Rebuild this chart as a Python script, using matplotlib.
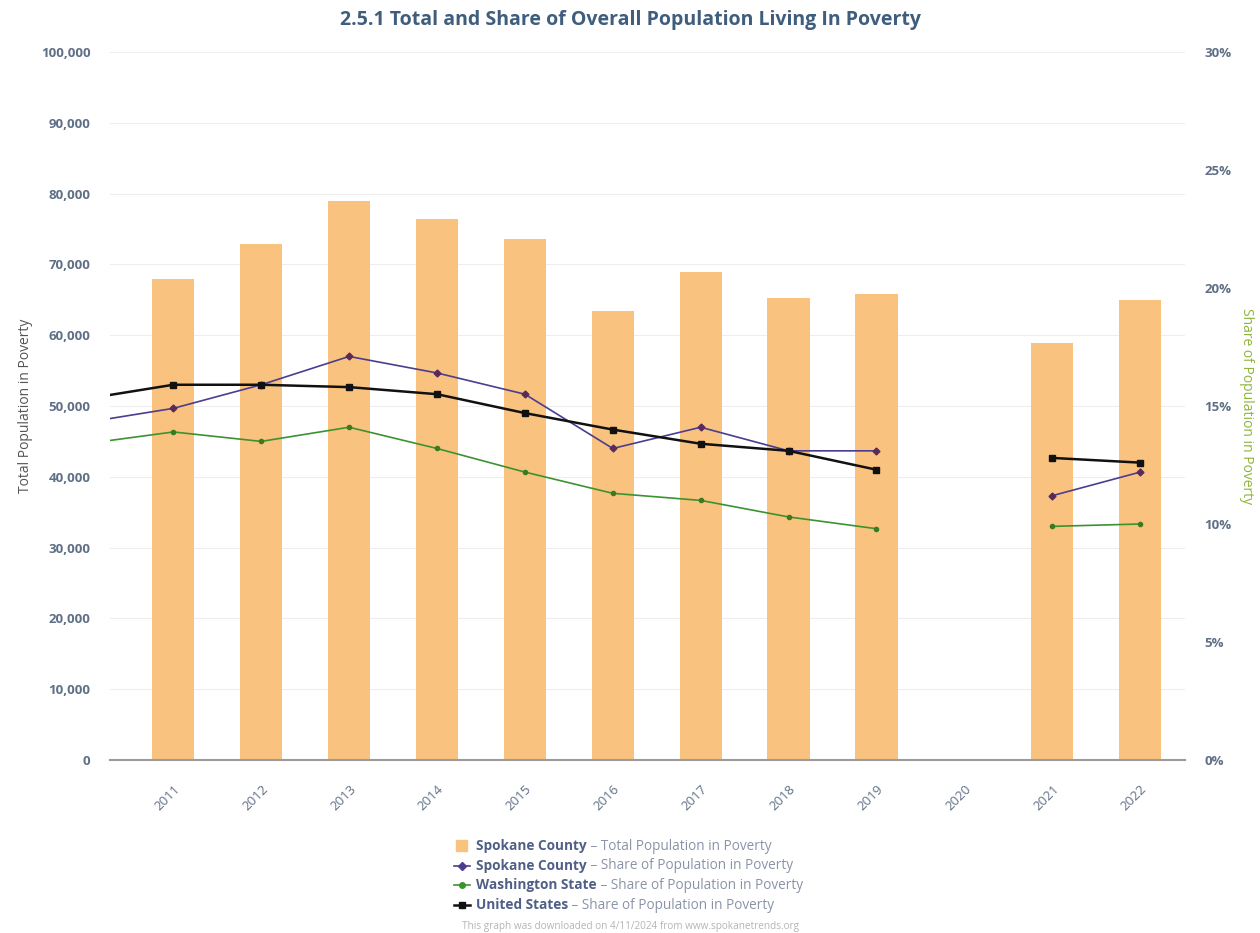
import numpy as np
import matplotlib
matplotlib.use("Agg")
import matplotlib.pyplot as plt
from matplotlib.lines import Line2D
from matplotlib.patches import Rectangle
from matplotlib.ticker import FuncFormatter, MultipleLocator

plt.rcParams['font.family'] = ['Open Sans', 'DejaVu Sans']

# data
years = [2011, 2012, 2013, 2014, 2015, 2016, 2017, 2018, 2019, 2020, 2021, 2022]
spokane_total = [68000, 72900, 79000, 76400, 73600, 63400, 68900, 65300, 65800,
                 np.nan, 58900, 65000]

# share series include 2010 (falls just outside the visible range)
share_years = [2010] + years
spokane_share = [14.3, 14.9, 15.9, 17.1, 16.4, 15.5, 13.2, 14.1, 13.1, 13.1,
                 np.nan, 11.2, 12.2]
wa_share = [13.4, 13.9, 13.5, 14.1, 13.2, 12.2, 11.3, 11.0, 10.3, 9.8,
            np.nan, 9.9, 10.0]
us_share = [15.3, 15.9, 15.9, 15.8, 15.5, 14.7, 14.0, 13.4, 13.1, 12.3,
            np.nan, 12.8, 12.6]

BAR = "#f9c27f"
PURPLE = "#4b3d8f"
GREEN = "#3b9330"
BLACK = "#111111"
TICK = "#5f6f86"

fig = plt.figure(figsize=(12.6, 9.33), dpi=100, facecolor="white")
ax = fig.add_axes([0.0873, 0.1854, 0.8532, 0.7589])
ax2 = ax.twinx()

ax.bar(years, spokane_total, width=0.48, color=BAR, zorder=2)
ax.set_ylim(0, 100000)
ax.set_xlim(2010.28, 2022.51)
ax.yaxis.set_major_locator(MultipleLocator(10000))
ax.yaxis.set_major_formatter(FuncFormatter(lambda v, p: f"{int(v):,}"))
ax.grid(axis="y", color="#eeeeee", lw=0.8, zorder=0)
ax.set_axisbelow(True)

ax2.plot(share_years, spokane_share, color=PURPLE, lw=1.2, marker="D",
         ms=3.5, mfc="#5a2a5a", mec="#5a2a5a", zorder=4)
ax2.plot(share_years, wa_share, color=GREEN, lw=1.2, marker="o",
         ms=3, mfc="#3a7a20", mec="#3a7a20", zorder=4)
ax2.plot(share_years, us_share, color=BLACK, lw=1.8, marker="s",
         ms=5, zorder=5)
ax2.set_ylim(0, 30)
ax2.yaxis.set_major_locator(MultipleLocator(5))
ax2.yaxis.set_major_formatter(FuncFormatter(lambda v, p: f"{int(v)}%"))

for a in (ax, ax2):
    for s in ("top", "left", "right", "bottom"):
        a.spines[s].set_visible(False)
    a.tick_params(axis="y", length=0, colors=TICK, labelsize=9.5, pad=14)
ax.spines["bottom"].set_visible(True)
ax.spines["bottom"].set_color("#9a9a9a")
ax.spines["bottom"].set_linewidth(1.5)

ax.set_xticks(years)
ax.set_xticklabels([str(y) for y in years], rotation=45, ha="right",
                   rotation_mode="anchor", color=TICK, fontsize=9.5)
ax.tick_params(axis="x", length=0, pad=16)
for t in ax.get_yticklabels() + ax2.get_yticklabels():
    t.set_fontweight("bold")

ax.set_ylabel("Total Population in Poverty", color="#555555", fontsize=10,
              labelpad=6)
ax2.set_ylabel("Share of Population in Poverty", color="#8fb53a", fontsize=10,
               rotation=270, labelpad=16)

fig.text(0.5, 0.979, "2.5.1 Total and Share of Overall Population Living In Poverty",
         ha="center", va="center", fontsize=14, fontweight="bold", color="#3f5d7d")

# legend drawn by hand so the series name can be bold
entries = [
    ("bar", BAR, None, "Spokane County", " \u2013 Total Population in Poverty"),
    ("line", PURPLE, "D", "Spokane County", " \u2013 Share of Population in Poverty"),
    ("line", GREEN, "o", "Washington State", " \u2013 Share of Population in Poverty"),
    ("line", BLACK, "s", "United States", " \u2013 Share of Population in Poverty"),
]
W, H = 1260, 933
for i, (kind, col, mk, name, rest) in enumerate(entries):
    yc = 1 - (846 + i * 19.7) / H
    if kind == "bar":
        fig.add_artist(Rectangle((456 / W, yc - 5 / H), 11 / W, 11 / H,
                                 transform=fig.transFigure, color=col))
    else:
        fig.add_artist(Line2D([454 / W, 470 / W], [yc, yc], color=col,
                              lw=1.8 if mk == "s" else 1.2,
                              transform=fig.transFigure))
        fig.add_artist(Line2D([462 / W], [yc], marker=mk, ms=5 if mk == "s" else 4,
                              color=col, transform=fig.transFigure))
    t = fig.text(476 / W, yc, name, ha="left", va="center", fontsize=9.8,
                 fontweight="bold", color="#4f5f85")
    ax.annotate(rest, xy=(1, 0.5), xycoords=t, ha="left", va="center",
                fontsize=9.8, color="#8a93a8", annotation_clip=False)

fig.text(0.5, 1 - 926 / H,
         "This graph was downloaded on 4/11/2024 from www.spokanetrends.org",
         ha="center", va="center", fontsize=7.2, color="#b5b5b5")

fig.savefig("out.png", dpi=100, facecolor="white")
